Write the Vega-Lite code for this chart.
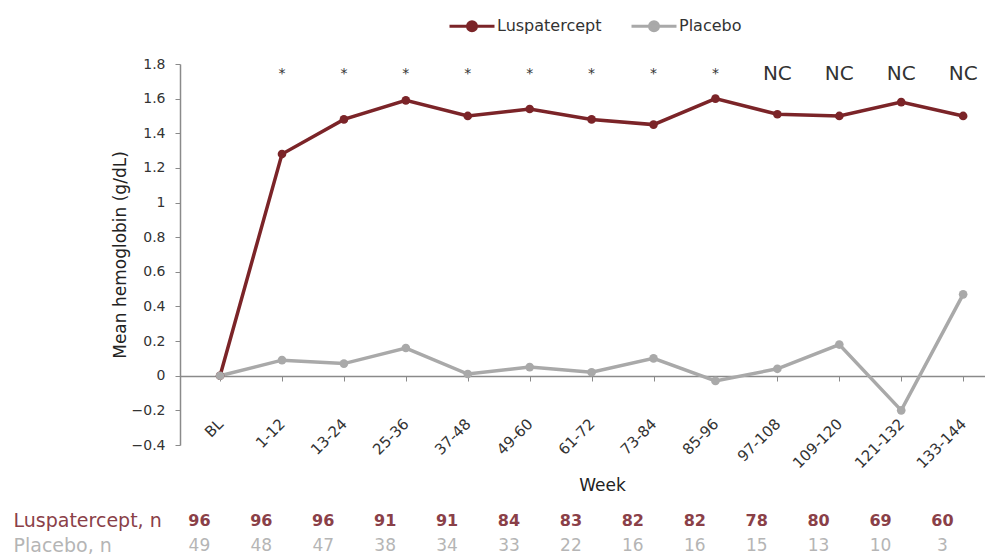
{
  "$schema": "https://vega.github.io/schema/vega-lite/v6.json",
  "background": "white",
  "padding": {"left": 13, "top": 2, "right": 0, "bottom": 0},
  "config": {
    "font": "DejaVu Sans",
    "view": {"stroke": null},
    "concat": {"spacing": 14},
    "axisY": {
      "grid": false,
      "labelOverlap": false,
      "tickSize": 5,
      "labelPadding": 10,
      "domainColor": "#8a8a8a",
      "domainWidth": 1.5,
      "tickColor": "#8a8a8a",
      "labelFontSize": 14,
      "labelColor": "#333333",
      "titleFontSize": 17,
      "titleFontWeight": "normal",
      "titleColor": "#222222",
      "titlePadding": 2
    }
  },
  "datasets": {
    "hb": [
      {"week": "BL", "arm": "Luspatercept", "change": 0},
      {"week": "1-12", "arm": "Luspatercept", "change": 1.28},
      {"week": "13-24", "arm": "Luspatercept", "change": 1.48},
      {"week": "25-36", "arm": "Luspatercept", "change": 1.59},
      {"week": "37-48", "arm": "Luspatercept", "change": 1.5},
      {"week": "49-60", "arm": "Luspatercept", "change": 1.54},
      {"week": "61-72", "arm": "Luspatercept", "change": 1.48},
      {"week": "73-84", "arm": "Luspatercept", "change": 1.45},
      {"week": "85-96", "arm": "Luspatercept", "change": 1.6},
      {"week": "97-108", "arm": "Luspatercept", "change": 1.51},
      {"week": "109-120", "arm": "Luspatercept", "change": 1.5},
      {"week": "121-132", "arm": "Luspatercept", "change": 1.58},
      {"week": "133-144", "arm": "Luspatercept", "change": 1.5},
      {"week": "BL", "arm": "Placebo", "change": 0},
      {"week": "1-12", "arm": "Placebo", "change": 0.09},
      {"week": "13-24", "arm": "Placebo", "change": 0.07},
      {"week": "25-36", "arm": "Placebo", "change": 0.16},
      {"week": "37-48", "arm": "Placebo", "change": 0.01},
      {"week": "49-60", "arm": "Placebo", "change": 0.05},
      {"week": "61-72", "arm": "Placebo", "change": 0.02},
      {"week": "73-84", "arm": "Placebo", "change": 0.1},
      {"week": "85-96", "arm": "Placebo", "change": -0.03},
      {"week": "97-108", "arm": "Placebo", "change": 0.04},
      {"week": "109-120", "arm": "Placebo", "change": 0.18},
      {"week": "121-132", "arm": "Placebo", "change": -0.2},
      {"week": "133-144", "arm": "Placebo", "change": 0.47}
    ],
    "sig": [
      {"week": "1-12", "label": "*"},
      {"week": "13-24", "label": "*"},
      {"week": "25-36", "label": "*"},
      {"week": "37-48", "label": "*"},
      {"week": "49-60", "label": "*"},
      {"week": "61-72", "label": "*"},
      {"week": "73-84", "label": "*"},
      {"week": "85-96", "label": "*"},
      {"week": "97-108", "label": "NC"},
      {"week": "109-120", "label": "NC"},
      {"week": "121-132", "label": "NC"},
      {"week": "133-144", "label": "NC"}
    ],
    "counts": [
      {"week": "BL", "arm": "Luspatercept", "n": 96},
      {"week": "1-12", "arm": "Luspatercept", "n": 96},
      {"week": "13-24", "arm": "Luspatercept", "n": 96},
      {"week": "25-36", "arm": "Luspatercept", "n": 91},
      {"week": "37-48", "arm": "Luspatercept", "n": 91},
      {"week": "49-60", "arm": "Luspatercept", "n": 84},
      {"week": "61-72", "arm": "Luspatercept", "n": 83},
      {"week": "73-84", "arm": "Luspatercept", "n": 82},
      {"week": "85-96", "arm": "Luspatercept", "n": 82},
      {"week": "97-108", "arm": "Luspatercept", "n": 78},
      {"week": "109-120", "arm": "Luspatercept", "n": 80},
      {"week": "121-132", "arm": "Luspatercept", "n": 69},
      {"week": "133-144", "arm": "Luspatercept", "n": 60},
      {"week": "BL", "arm": "Placebo", "n": 49},
      {"week": "1-12", "arm": "Placebo", "n": 48},
      {"week": "13-24", "arm": "Placebo", "n": 47},
      {"week": "25-36", "arm": "Placebo", "n": 38},
      {"week": "37-48", "arm": "Placebo", "n": 34},
      {"week": "49-60", "arm": "Placebo", "n": 33},
      {"week": "61-72", "arm": "Placebo", "n": 22},
      {"week": "73-84", "arm": "Placebo", "n": 16},
      {"week": "85-96", "arm": "Placebo", "n": 16},
      {"week": "97-108", "arm": "Placebo", "n": 15},
      {"week": "109-120", "arm": "Placebo", "n": 13},
      {"week": "121-132", "arm": "Placebo", "n": 10},
      {"week": "133-144", "arm": "Placebo", "n": 3}
    ]
  },
  "resolve": {
    "scale": {"x": "independent", "color": "independent"},
    "legend": {"color": "independent"}
  },
  "vconcat": [
    {
      "width": 805,
      "height": 381,
      "encoding": {
        "x": {
          "field": "week",
          "type": "ordinal",
          "scale": {
            "type": "point",
            "domain": ["BL", "1-12", "13-24", "25-36", "37-48", "49-60", "61-72", "73-84", "85-96", "97-108", "109-120", "121-132", "133-144"],
            "paddingOuter": 0.406,
            "align": 0.647
          },
          "axis": {
            "title": "Week",
            "offset": -69,
            "labelAngle": -45,
            "labelAlign": "right",
            "labelBaseline": "middle",
            "labelPadding": 40,
            "tickSize": 5,
            "domainColor": "#8a8a8a",
            "domainWidth": 1.5,
            "tickColor": "#8a8a8a",
            "labelFontSize": 15,
            "labelColor": "#333333",
            "labelOverlap": false,
            "titleFontSize": 17,
            "titleFontWeight": "normal",
            "titleColor": "#222222",
            "titlePadding": 7,
            "titleX": 422
          }
        }
      },
      "layer": [
        {
          "data": {"name": "hb"},
          "encoding": {
            "y": {
              "field": "change",
              "type": "quantitative",
              "scale": {"domain": [-0.4, 1.8], "nice": false, "zero": false},
              "axis": {
                "title": "Mean hemoglobin (g/dL)",
                "values": [-0.4, -0.2, 0, 0.2, 0.4, 0.6, 0.8, 1, 1.2, 1.4, 1.6, 1.8],
                "format": ".1~f"
              }
            },
            "color": {
              "field": "arm",
              "type": "nominal",
              "scale": {"domain": ["Luspatercept", "Placebo"], "range": ["#7b2428", "#a9a9a9"]},
              "legend": {
                "orient": "none",
                "legendX": 268,
                "legendY": -62,
                "direction": "horizontal",
                "title": null,
                "symbolType": "M-1,0H1M0.2,0A0.2,0.2,0,1,1,-0.2,0A0.2,0.2,0,1,1,0.2,0Z",
                "symbolSize": 2025,
                "symbolStrokeWidth": 3,
                "labelFontSize": 16,
                "labelColor": "#333333",
                "labelOffset": 1,
                "columnPadding": 23,
                "encode": {
                  "symbols": {"update": {"fill": {"scale": "color", "field": "value"}, "stroke": {"scale": "color", "field": "value"}}}
                }
              }
            }
          },
          "layer": [
            {"mark": {"type": "line", "strokeWidth": 3.5}},
            {"mark": {"type": "point", "filled": true, "size": 75, "opacity": 1}}
          ]
        },
        {
          "data": {"name": "sig"},
          "mark": {"type": "text", "color": "#333333", "baseline": "middle"},
          "encoding": {
            "y": {
              "datum": 1.74,
              "type": "quantitative",
              "axis": {
                "title": "Mean hemoglobin (g/dL)",
                "values": [-0.4, -0.2, 0, 0.2, 0.4, 0.6, 0.8, 1, 1.2, 1.4, 1.6, 1.8],
                "format": ".1~f"
              }
            },
            "text": {"field": "label"},
            "size": {
              "condition": {"test": "datum.label === 'NC'", "value": 20},
              "value": 14
            }
          }
        }
      ]
    },
    {
      "width": 805,
      "height": 50,
      "data": {"name": "counts"},
      "encoding": {
        "x": {
          "field": "week",
          "type": "ordinal",
          "scale": {
            "type": "point",
            "domain": ["BL", "1-12", "13-24", "25-36", "37-48", "49-60", "61-72", "73-84", "85-96", "97-108", "109-120", "121-132", "133-144"],
            "paddingOuter": 0.69,
            "align": 0.313
          },
          "axis": null
        },
        "y": {
          "field": "arm",
          "type": "nominal",
          "scale": {"domain": ["Luspatercept", "Placebo"]},
          "axis": {
            "title": null,
            "domain": false,
            "ticks": false,
            "labelExpr": "datum.value + ', n'",
            "labelAlign": "left",
            "labelPadding": 167,
            "labelFontSize": 19,
            "labelColor": {"condition": {"test": "datum.value === 'Luspatercept'", "value": "#8a4048"}, "value": "#b5b5b5"}
          }
        },
        "text": {"field": "n", "type": "quantitative"}
      },
      "layer": [
        {
          "transform": [{"filter": "datum.arm === 'Luspatercept'"}],
          "mark": {"type": "text", "fontSize": 16, "fontWeight": "bold", "color": "#8a4048"}
        },
        {
          "transform": [{"filter": "datum.arm === 'Placebo'"}],
          "mark": {"type": "text", "fontSize": 17, "color": "#b5b5b5"}
        }
      ]
    }
  ]
}
